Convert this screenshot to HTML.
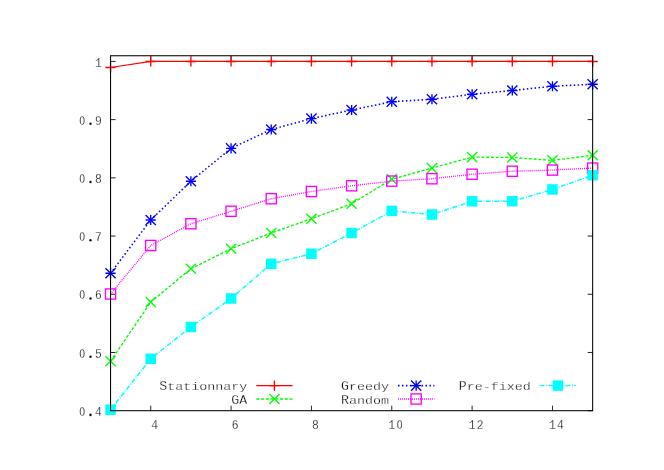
<!DOCTYPE html>
<html><head><meta charset="utf-8"><title>plot</title>
<style>html,body{margin:0;padding:0;background:#fff;width:664px;height:470px;overflow:hidden}body{font-family:"Liberation Mono",monospace;position:relative}</style></head>
<body>
<svg width="664" height="470" viewBox="0 0 664 470" style="position:absolute;left:0;top:0">
<rect width="664" height="470" fill="#fff"/>
<path d="M110.55 410.70h5.0M592.65 410.70h-5.0M110.55 352.48h5.0M592.65 352.48h-5.0M110.55 294.27h5.0M592.65 294.27h-5.0M110.55 236.05h5.0M592.65 236.05h-5.0M110.55 177.83h5.0M592.65 177.83h-5.0M110.55 119.62h5.0M592.65 119.62h-5.0M110.55 61.40h5.0M592.65 61.40h-5.0M150.72 410.7v-5.0M150.72 55.75v5.0M231.07 410.7v-5.0M231.07 55.75v5.0M311.43 410.7v-5.0M311.43 55.75v5.0M391.77 410.7v-5.0M391.77 55.75v5.0M472.12 410.7v-5.0M472.12 55.75v5.0M552.47 410.7v-5.0M552.47 55.75v5.0" stroke="#000" stroke-width="0.85" fill="none"/>
<polyline points="110.55,67.50 150.72,61.45 190.90,61.45 231.07,61.45 271.25,61.45 311.43,61.45 351.60,61.45 391.77,61.45 431.95,61.45 472.12,61.45 512.30,61.45 552.47,61.45 592.65,61.45" stroke="#ff0000" stroke-width="1.2" fill="none"/>
<path d="M105.45 67.50H115.65M110.55 62.40V72.60" stroke="#ff0000" stroke-width="1.35" fill="none"/>
<path d="M145.62 61.45H155.82M150.72 56.35V66.55" stroke="#ff0000" stroke-width="1.35" fill="none"/>
<path d="M185.80 61.45H196.00M190.90 56.35V66.55" stroke="#ff0000" stroke-width="1.35" fill="none"/>
<path d="M225.97 61.45H236.17M231.07 56.35V66.55" stroke="#ff0000" stroke-width="1.35" fill="none"/>
<path d="M266.15 61.45H276.35M271.25 56.35V66.55" stroke="#ff0000" stroke-width="1.35" fill="none"/>
<path d="M306.32 61.45H316.53M311.43 56.35V66.55" stroke="#ff0000" stroke-width="1.35" fill="none"/>
<path d="M346.50 61.45H356.70M351.60 56.35V66.55" stroke="#ff0000" stroke-width="1.35" fill="none"/>
<path d="M386.67 61.45H396.88M391.77 56.35V66.55" stroke="#ff0000" stroke-width="1.35" fill="none"/>
<path d="M426.85 61.45H437.05M431.95 56.35V66.55" stroke="#ff0000" stroke-width="1.35" fill="none"/>
<path d="M467.02 61.45H477.23M472.12 56.35V66.55" stroke="#ff0000" stroke-width="1.35" fill="none"/>
<path d="M507.20 61.45H517.40M512.30 56.35V66.55" stroke="#ff0000" stroke-width="1.35" fill="none"/>
<path d="M547.37 61.45H557.57M552.47 56.35V66.55" stroke="#ff0000" stroke-width="1.35" fill="none"/>
<path d="M587.55 61.45H597.75M592.65 56.35V66.55" stroke="#ff0000" stroke-width="1.35" fill="none"/>
<path d="M256.30 385.60H292.60" stroke="#ff0000" stroke-width="1.2" fill="none"/>
<path d="M269.30 385.60H279.50M274.40 380.50V390.70" stroke="#ff0000" stroke-width="1.35" fill="none"/>
<polyline points="110.55,361.25 150.72,302.00 190.90,268.75 231.07,248.75 271.25,233.00 311.43,218.75 351.60,203.75 391.77,179.20 431.95,168.10 472.12,157.10 512.30,157.50 552.47,160.40 592.65,155.25" stroke="#00ff00" stroke-width="1.35" fill="none" stroke-dasharray="3 1.75"/>
<path d="M105.45 356.15L115.65 366.35M105.45 366.35L115.65 356.15" stroke="#00ff00" stroke-width="1.35" fill="none"/>
<path d="M145.62 296.90L155.82 307.10M145.62 307.10L155.82 296.90" stroke="#00ff00" stroke-width="1.35" fill="none"/>
<path d="M185.80 263.65L196.00 273.85M185.80 273.85L196.00 263.65" stroke="#00ff00" stroke-width="1.35" fill="none"/>
<path d="M225.97 243.65L236.17 253.85M225.97 253.85L236.17 243.65" stroke="#00ff00" stroke-width="1.35" fill="none"/>
<path d="M266.15 227.90L276.35 238.10M266.15 238.10L276.35 227.90" stroke="#00ff00" stroke-width="1.35" fill="none"/>
<path d="M306.32 213.65L316.53 223.85M306.32 223.85L316.53 213.65" stroke="#00ff00" stroke-width="1.35" fill="none"/>
<path d="M346.50 198.65L356.70 208.85M346.50 208.85L356.70 198.65" stroke="#00ff00" stroke-width="1.35" fill="none"/>
<path d="M386.67 174.10L396.88 184.30M386.67 184.30L396.88 174.10" stroke="#00ff00" stroke-width="1.35" fill="none"/>
<path d="M426.85 163.00L437.05 173.20M426.85 173.20L437.05 163.00" stroke="#00ff00" stroke-width="1.35" fill="none"/>
<path d="M467.02 152.00L477.23 162.20M467.02 162.20L477.23 152.00" stroke="#00ff00" stroke-width="1.35" fill="none"/>
<path d="M507.20 152.40L517.40 162.60M507.20 162.60L517.40 152.40" stroke="#00ff00" stroke-width="1.35" fill="none"/>
<path d="M547.37 155.30L557.57 165.50M547.37 165.50L557.57 155.30" stroke="#00ff00" stroke-width="1.35" fill="none"/>
<path d="M587.55 150.15L597.75 160.35M587.55 160.35L597.75 150.15" stroke="#00ff00" stroke-width="1.35" fill="none"/>
<path d="M256.30 399.00H292.60" stroke="#00ff00" stroke-width="1.35" fill="none" stroke-dasharray="3 1.75"/>
<path d="M269.30 393.90L279.50 404.10M269.30 404.10L279.50 393.90" stroke="#00ff00" stroke-width="1.35" fill="none"/>
<polyline points="110.55,273.25 150.72,220.00 190.90,181.25 231.07,148.30 271.25,129.50 311.43,118.60 351.60,110.00 391.77,101.75 431.95,99.25 472.12,94.25 512.30,90.50 552.47,86.25 592.65,84.25" stroke="#0000ff" stroke-width="1.55" fill="none" stroke-dasharray="1.5 2.42"/>
<path d="M105.45 273.25H115.65M110.55 268.15V278.35" stroke="#0000ff" stroke-width="1.35" fill="none"/><path d="M105.45 268.15L115.65 278.35M105.45 278.35L115.65 268.15" stroke="#0000ff" stroke-width="1.35" fill="none"/>
<path d="M145.62 220.00H155.82M150.72 214.90V225.10" stroke="#0000ff" stroke-width="1.35" fill="none"/><path d="M145.62 214.90L155.82 225.10M145.62 225.10L155.82 214.90" stroke="#0000ff" stroke-width="1.35" fill="none"/>
<path d="M185.80 181.25H196.00M190.90 176.15V186.35" stroke="#0000ff" stroke-width="1.35" fill="none"/><path d="M185.80 176.15L196.00 186.35M185.80 186.35L196.00 176.15" stroke="#0000ff" stroke-width="1.35" fill="none"/>
<path d="M225.97 148.30H236.17M231.07 143.20V153.40" stroke="#0000ff" stroke-width="1.35" fill="none"/><path d="M225.97 143.20L236.17 153.40M225.97 153.40L236.17 143.20" stroke="#0000ff" stroke-width="1.35" fill="none"/>
<path d="M266.15 129.50H276.35M271.25 124.40V134.60" stroke="#0000ff" stroke-width="1.35" fill="none"/><path d="M266.15 124.40L276.35 134.60M266.15 134.60L276.35 124.40" stroke="#0000ff" stroke-width="1.35" fill="none"/>
<path d="M306.32 118.60H316.53M311.43 113.50V123.70" stroke="#0000ff" stroke-width="1.35" fill="none"/><path d="M306.32 113.50L316.53 123.70M306.32 123.70L316.53 113.50" stroke="#0000ff" stroke-width="1.35" fill="none"/>
<path d="M346.50 110.00H356.70M351.60 104.90V115.10" stroke="#0000ff" stroke-width="1.35" fill="none"/><path d="M346.50 104.90L356.70 115.10M346.50 115.10L356.70 104.90" stroke="#0000ff" stroke-width="1.35" fill="none"/>
<path d="M386.67 101.75H396.88M391.77 96.65V106.85" stroke="#0000ff" stroke-width="1.35" fill="none"/><path d="M386.67 96.65L396.88 106.85M386.67 106.85L396.88 96.65" stroke="#0000ff" stroke-width="1.35" fill="none"/>
<path d="M426.85 99.25H437.05M431.95 94.15V104.35" stroke="#0000ff" stroke-width="1.35" fill="none"/><path d="M426.85 94.15L437.05 104.35M426.85 104.35L437.05 94.15" stroke="#0000ff" stroke-width="1.35" fill="none"/>
<path d="M467.02 94.25H477.23M472.12 89.15V99.35" stroke="#0000ff" stroke-width="1.35" fill="none"/><path d="M467.02 89.15L477.23 99.35M467.02 99.35L477.23 89.15" stroke="#0000ff" stroke-width="1.35" fill="none"/>
<path d="M507.20 90.50H517.40M512.30 85.40V95.60" stroke="#0000ff" stroke-width="1.35" fill="none"/><path d="M507.20 85.40L517.40 95.60M507.20 95.60L517.40 85.40" stroke="#0000ff" stroke-width="1.35" fill="none"/>
<path d="M547.37 86.25H557.57M552.47 81.15V91.35" stroke="#0000ff" stroke-width="1.35" fill="none"/><path d="M547.37 81.15L557.57 91.35M547.37 91.35L557.57 81.15" stroke="#0000ff" stroke-width="1.35" fill="none"/>
<path d="M587.55 84.25H597.75M592.65 79.15V89.35" stroke="#0000ff" stroke-width="1.35" fill="none"/><path d="M587.55 79.15L597.75 89.35M587.55 89.35L597.75 79.15" stroke="#0000ff" stroke-width="1.35" fill="none"/>
<path d="M398.05 385.60H434.35" stroke="#0000ff" stroke-width="1.55" fill="none" stroke-dasharray="1.5 2.42"/>
<path d="M411.05 385.60H421.25M416.15 380.50V390.70" stroke="#0000ff" stroke-width="1.35" fill="none"/><path d="M411.05 380.50L421.25 390.70M411.05 390.70L421.25 380.50" stroke="#0000ff" stroke-width="1.35" fill="none"/>
<polyline points="110.55,294.00 150.72,245.50 190.90,223.75 231.07,211.25 271.25,198.75 311.43,191.50 351.60,185.80 391.77,181.10 431.95,178.75 472.12,174.25 512.30,171.25 552.47,170.10 592.65,168.10" stroke="#ff00ff" stroke-width="1.35" fill="none" stroke-dasharray="0.95 1.04"/>
<rect x="105.45" y="288.90" width="10.20" height="10.20" stroke="#ff00ff" stroke-width="1.35" fill="none"/>
<rect x="145.62" y="240.40" width="10.20" height="10.20" stroke="#ff00ff" stroke-width="1.35" fill="none"/>
<rect x="185.80" y="218.65" width="10.20" height="10.20" stroke="#ff00ff" stroke-width="1.35" fill="none"/>
<rect x="225.97" y="206.15" width="10.20" height="10.20" stroke="#ff00ff" stroke-width="1.35" fill="none"/>
<rect x="266.15" y="193.65" width="10.20" height="10.20" stroke="#ff00ff" stroke-width="1.35" fill="none"/>
<rect x="306.32" y="186.40" width="10.20" height="10.20" stroke="#ff00ff" stroke-width="1.35" fill="none"/>
<rect x="346.50" y="180.70" width="10.20" height="10.20" stroke="#ff00ff" stroke-width="1.35" fill="none"/>
<rect x="386.67" y="176.00" width="10.20" height="10.20" stroke="#ff00ff" stroke-width="1.35" fill="none"/>
<rect x="426.85" y="173.65" width="10.20" height="10.20" stroke="#ff00ff" stroke-width="1.35" fill="none"/>
<rect x="467.02" y="169.15" width="10.20" height="10.20" stroke="#ff00ff" stroke-width="1.35" fill="none"/>
<rect x="507.20" y="166.15" width="10.20" height="10.20" stroke="#ff00ff" stroke-width="1.35" fill="none"/>
<rect x="547.37" y="165.00" width="10.20" height="10.20" stroke="#ff00ff" stroke-width="1.35" fill="none"/>
<rect x="587.55" y="163.00" width="10.20" height="10.20" stroke="#ff00ff" stroke-width="1.35" fill="none"/>
<path d="M398.05 399.00H434.35" stroke="#ff00ff" stroke-width="1.35" fill="none" stroke-dasharray="0.95 1.04"/>
<rect x="411.05" y="393.90" width="10.20" height="10.20" stroke="#ff00ff" stroke-width="1.35" fill="none"/>
<polyline points="110.55,409.70 150.72,358.75 190.90,327.00 231.07,298.50 271.25,263.80 311.43,253.75 351.60,233.00 391.77,210.90 431.95,214.50 472.12,201.30 512.30,201.20 552.47,189.45 592.65,175.20" stroke="#00ffff" stroke-width="1.45" fill="none" stroke-dasharray="4.75 1.6 0.9 1.35"/>
<rect x="105.30" y="404.45" width="10.50" height="10.50" fill="#00ffff"/>
<rect x="145.47" y="353.50" width="10.50" height="10.50" fill="#00ffff"/>
<rect x="185.65" y="321.75" width="10.50" height="10.50" fill="#00ffff"/>
<rect x="225.82" y="293.25" width="10.50" height="10.50" fill="#00ffff"/>
<rect x="266.00" y="258.55" width="10.50" height="10.50" fill="#00ffff"/>
<rect x="306.18" y="248.50" width="10.50" height="10.50" fill="#00ffff"/>
<rect x="346.35" y="227.75" width="10.50" height="10.50" fill="#00ffff"/>
<rect x="386.52" y="205.65" width="10.50" height="10.50" fill="#00ffff"/>
<rect x="426.70" y="209.25" width="10.50" height="10.50" fill="#00ffff"/>
<rect x="466.88" y="196.05" width="10.50" height="10.50" fill="#00ffff"/>
<rect x="507.05" y="195.95" width="10.50" height="10.50" fill="#00ffff"/>
<rect x="547.22" y="184.20" width="10.50" height="10.50" fill="#00ffff"/>
<rect x="587.40" y="169.95" width="10.50" height="10.50" fill="#00ffff"/>
<path d="M539.80 385.60H576.10" stroke="#00ffff" stroke-width="1.45" fill="none" stroke-dasharray="4.75 1.6 0.9 1.35"/>
<rect x="552.65" y="380.35" width="10.50" height="10.50" fill="#00ffff"/>
<rect x="110.55" y="55.75" width="482.10" height="354.95" stroke="#000" stroke-width="1.05" fill="none"/>
<g opacity="0.999" font-family="Liberation Mono, monospace" font-size="11.0" text-anchor="middle" fill="#000" stroke="#fff" stroke-width="0.26">
<text transform="translate(82.30,415.90) scale(0.74,1)" font-size="13.2">O</text>
<circle cx="90.50" cy="414.90" r="1.3"/>
<text transform="translate(98.30,415.90) scale(0.86,1)" font-size="13.2">4</text>
<text transform="translate(82.30,357.68) scale(0.74,1)" font-size="13.2">O</text>
<circle cx="90.50" cy="356.68" r="1.3"/>
<text transform="translate(98.30,357.68) scale(0.86,1)" font-size="13.2">5</text>
<text transform="translate(82.30,299.47) scale(0.74,1)" font-size="13.2">O</text>
<circle cx="90.50" cy="298.47" r="1.3"/>
<text transform="translate(98.30,299.47) scale(0.86,1)" font-size="13.2">6</text>
<text transform="translate(82.30,241.25) scale(0.74,1)" font-size="13.2">O</text>
<circle cx="90.50" cy="240.25" r="1.3"/>
<text transform="translate(98.30,241.25) scale(0.86,1)" font-size="13.2">7</text>
<text transform="translate(82.30,183.03) scale(0.74,1)" font-size="13.2">O</text>
<circle cx="90.50" cy="182.03" r="1.3"/>
<text transform="translate(98.30,183.03) scale(0.86,1)" font-size="13.2">8</text>
<text transform="translate(82.30,124.82) scale(0.74,1)" font-size="13.2">O</text>
<circle cx="90.50" cy="123.82" r="1.3"/>
<text transform="translate(98.30,124.82) scale(0.86,1)" font-size="13.2">9</text>
<text transform="translate(98.30,66.60) scale(0.86,1)" font-size="13.2">1</text>
<text transform="translate(154.72,428.70) scale(0.86,1)" font-size="13.2">4</text>
<text transform="translate(235.07,428.70) scale(0.86,1)" font-size="13.2">6</text>
<text transform="translate(315.43,428.70) scale(0.86,1)" font-size="13.2">8</text>
<text transform="translate(391.77,428.70) scale(0.86,1)" font-size="13.2">1</text>
<text transform="translate(399.77,428.70) scale(0.74,1)" font-size="13.2">O</text>
<text transform="translate(472.12,428.70) scale(0.86,1)" font-size="13.2">1</text>
<text transform="translate(480.12,428.70) scale(0.86,1)" font-size="13.2">2</text>
<text transform="translate(552.47,428.70) scale(0.86,1)" font-size="13.2">1</text>
<text transform="translate(560.47,428.70) scale(0.86,1)" font-size="13.2">4</text>
<text transform="translate(163.30,390.20) scale(1.05,1)" font-size="12.6">S</text>
<text transform="translate(171.30,390.20) scale(1.22,1)" font-size="11.0">t</text>
<text transform="translate(179.30,390.20) scale(1.22,1)" font-size="11.0">a</text>
<text transform="translate(187.30,390.20) scale(1.22,1)" font-size="11.0">t</text>
<text transform="translate(195.30,390.20) scale(1.22,1)" font-size="11.0">i</text>
<text transform="translate(203.30,390.20) scale(1.22,1)" font-size="11.0">o</text>
<text transform="translate(211.30,390.20) scale(1.22,1)" font-size="11.0">n</text>
<text transform="translate(219.30,390.20) scale(1.22,1)" font-size="11.0">n</text>
<text transform="translate(227.30,390.20) scale(1.22,1)" font-size="11.0">a</text>
<text transform="translate(235.30,390.20) scale(1.22,1)" font-size="11.0">r</text>
<text transform="translate(243.30,390.20) scale(1.22,1)" font-size="11.0">y</text>
<text transform="translate(235.30,404.00) scale(1.05,1)" font-size="12.6">G</text>
<text transform="translate(243.30,404.00) scale(1.05,1)" font-size="12.6">A</text>
<text transform="translate(345.05,390.20) scale(1.05,1)" font-size="12.6">G</text>
<text transform="translate(353.05,390.20) scale(1.22,1)" font-size="11.0">r</text>
<text transform="translate(361.05,390.20) scale(1.22,1)" font-size="11.0">e</text>
<text transform="translate(369.05,390.20) scale(1.22,1)" font-size="11.0">e</text>
<text transform="translate(377.05,390.20) scale(1.22,1)" font-size="11.0">d</text>
<text transform="translate(385.05,390.20) scale(1.22,1)" font-size="11.0">y</text>
<text transform="translate(345.05,404.00) scale(1.05,1)" font-size="12.6">R</text>
<text transform="translate(353.05,404.00) scale(1.22,1)" font-size="11.0">a</text>
<text transform="translate(361.05,404.00) scale(1.22,1)" font-size="11.0">n</text>
<text transform="translate(369.05,404.00) scale(1.22,1)" font-size="11.0">d</text>
<text transform="translate(377.05,404.00) scale(1.22,1)" font-size="11.0">o</text>
<text transform="translate(385.05,404.00) scale(1.22,1)" font-size="11.0">m</text>
<text transform="translate(462.80,390.20) scale(1.05,1)" font-size="12.6">P</text>
<text transform="translate(470.80,390.20) scale(1.22,1)" font-size="11.0">r</text>
<text transform="translate(478.80,390.20) scale(1.22,1)" font-size="11.0">e</text>
<text transform="translate(486.80,390.20) scale(1.22,1)" font-size="11.0">-</text>
<text transform="translate(494.80,390.20) scale(1.22,1)" font-size="11.0">f</text>
<text transform="translate(502.80,390.20) scale(1.22,1)" font-size="11.0">i</text>
<text transform="translate(510.80,390.20) scale(1.22,1)" font-size="11.0">x</text>
<text transform="translate(518.80,390.20) scale(1.22,1)" font-size="11.0">e</text>
<text transform="translate(526.80,390.20) scale(1.22,1)" font-size="11.0">d</text>
</g>
</svg>
</body></html>
